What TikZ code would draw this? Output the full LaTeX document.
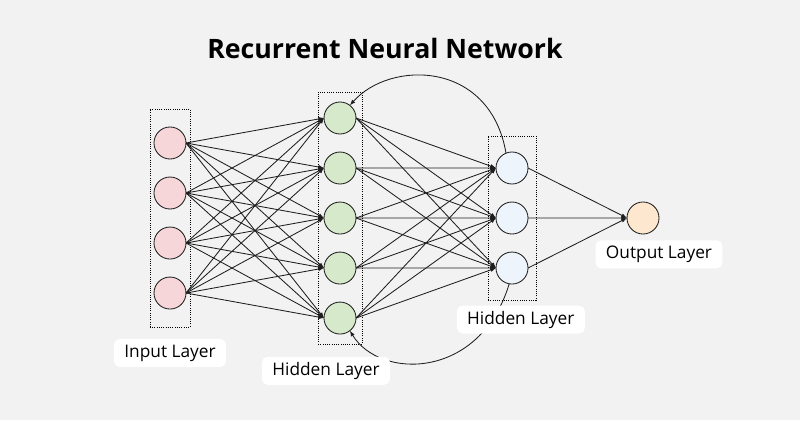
\documentclass[tikz,border=0pt]{standalone}
\usepackage{fontspec}
\setmainfont{Open Sans}
\usepackage{tikz}
\usetikzlibrary{positioning,arrows.meta,fit}
\definecolor{bggray}{RGB}{242,242,242}
\definecolor{inpink}{RGB}{247,214,217}
\definecolor{hidgreen}{RGB}{214,233,202}
\definecolor{hidblue}{RGB}{238,244,251}
\definecolor{outorange}{RGB}{253,231,206}
\definecolor{edgegray}{RGB}{30,30,30}
\tikzset{
    neuron/.style={
        circle,
        draw=edgegray,
        line width=0.6pt,
        minimum size=0.8cm,
        inner sep=0pt,
        outer sep=0pt
    },
    inp/.style={neuron,fill=inpink},
    hid/.style={neuron,fill=hidgreen},
    hidb/.style={neuron,fill=hidblue},
    outp/.style={neuron,fill=outorange},
    layerbox/.style={
        rectangle,
        draw=black,
        densely dotted,
        line width=0.6pt
    },
    lbl/.style={
        rectangle,
        fill=white,
        rounded corners=4pt,
        minimum height=0.7cm,
        inner xsep=0.26cm,
        font=\fontsize{12.3}{14}\selectfont
    },
    arr/.style={-{Latex[length=4pt,width=3pt]},line width=0.6pt,edgegray}
}
\begin{document}
\begin{tikzpicture}[x=0.025cm,y=-0.025cm,node distance=0.45cm]
\fill[bggray] (0,0) rectangle (800,420);
\node[font=\fontsize{19}{22}\selectfont\bfseries] (title) at (385,48) {Recurrent Neural Network};
% input layer
\node[inp] (i1) at (170,143) {};
\node[inp,below=of i1] (i2) {};
\node[inp,below=of i2] (i3) {};
\node[inp,below=of i3] (i4) {};
% first hidden layer
\node[hid] (h1) at (340,118) {};
\node[hid,below=of h1] (h2) {};
\node[hid,below=of h2] (h3) {};
\node[hid,below=of h3] (h4) {};
\node[hid,below=of h4] (h5) {};
% second hidden layer
\node[hidb] (g1) at (512,168) {};
\node[hidb,below=of g1] (g2) {};
\node[hidb,below=of g2] (g3) {};
% output
\node[outp] (o) at (643,218) {};
% dotted boxes
\node[layerbox,fit=(i1)(i4),inner xsep=0.1cm,inner ysep=0.45cm] (ibox) {};
\node[layerbox,fit=(h1)(h5),inner xsep=0.15cm,inner ysep=0.25cm] (hbox) {};
\node[layerbox,fit=(g1)(g3),inner xsep=0.2cm,inner ysep=0.4cm] (gbox) {};
% connections
\foreach \a in {1,...,4}
    \foreach \b in {1,...,5}
        \draw[arr] (i\a.east) -- (h\b.west);
\foreach \a in {1,...,5}
    \foreach \b in {1,...,3}
        \draw[arr] (h\a.east) -- (g\b.west);
\foreach \a in {1,...,3}
    \draw[arr] (g\a.east) -- (o.west);
% recurrent loops
\draw[arr] (g1.112) .. controls (490,60) and (390,60) .. (h1.52);
\draw[arr] (g3.260) .. controls (480,380) and (380,380) .. (h5.-52);
% labels
\node[lbl,below=0.28cm of ibox] (ilbl) {Input Layer};
\node[lbl,below=0.3cm of hbox,xshift=-0.35cm] (hlbl) {Hidden Layer};
\node[lbl,below=0.12cm of gbox,xshift=0.22cm] (glbl) {Hidden Layer};
\node[lbl,below=0.15cm of o,xshift=0.4cm] (olbl) {Output Layer};
\end{tikzpicture}
\end{document}
